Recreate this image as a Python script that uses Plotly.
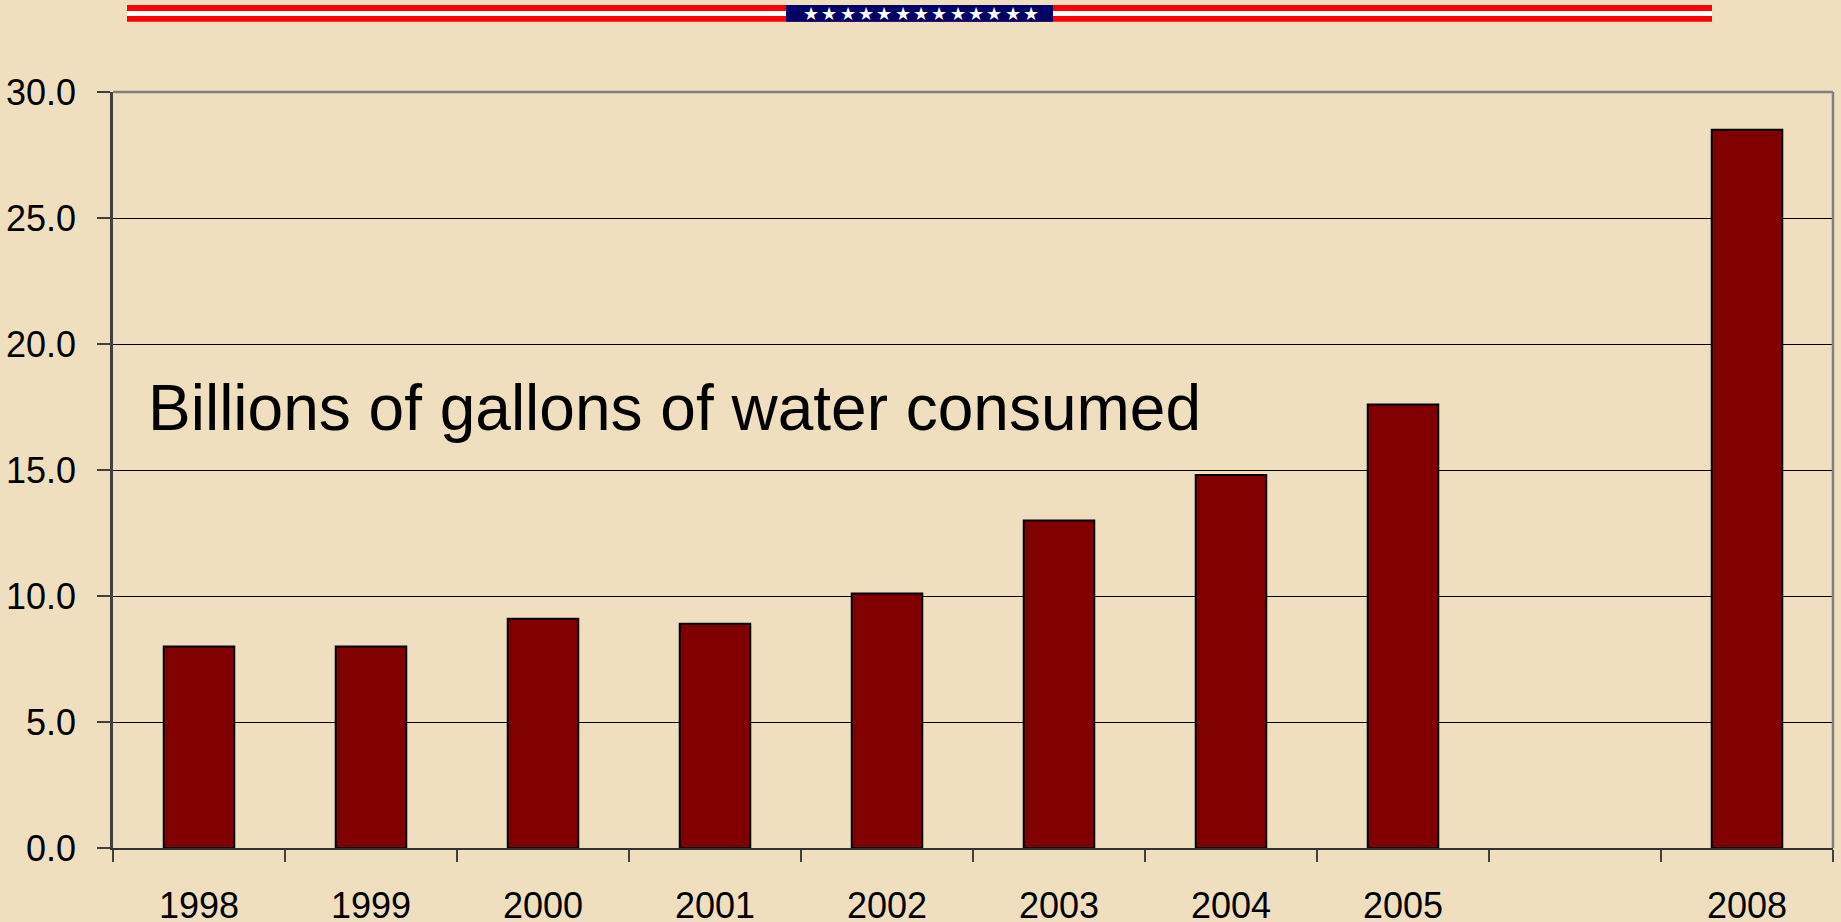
import plotly.graph_objects as go

# ---- data ----
years = ["1998", "1999", "2000", "2001", "2002", "2003", "2004", "2005", " ", "2008"]
water_billion_gallons = [8.0, 8.0, 9.1, 8.9, 10.1, 13.0, 14.8, 17.6, None, 28.5]
y_ticks = [0, 5, 10, 15, 20, 25, 30]
label_text = "Billions of gallons of water consumed"

W, H = 1841, 922
L, R, T, B = 113, 8, 92, 74
PW, PH = W - L - R, H - T - B


def px_x(px):
    return (px - L) / PW


def px_y(py):
    return (H - B - py) / PH


BG = "#EFDFBE"
FONT = "Liberation Sans, Arial, sans-serif"

fig = go.Figure()
fig.add_trace(go.Bar(
    x=years, y=water_billion_gallons,
    marker=dict(color="#800000", line=dict(color="#000000", width=2)),
    hoverinfo="x+y",
))

shapes = []
# top and right border (gray)
shapes.append(dict(type="line", xref="paper", yref="paper", x0=0, x1=1, y0=1, y1=1,
                   line=dict(color="#808080", width=2.5), layer="above"))
shapes.append(dict(type="line", xref="paper", yref="paper", x0=1, x1=1, y0=0, y1=1,
                   line=dict(color="#808080", width=2.5), layer="above"))

# banner (red / white stripes with navy star field)
bx0, bx1 = 127, 1712
shapes.append(dict(type="rect", xref="paper", yref="paper", x0=px_x(bx0), x1=px_x(bx1),
                   y0=px_y(21.7), y1=px_y(5), fillcolor="#FF0000", line=dict(width=0)))
shapes.append(dict(type="rect", xref="paper", yref="paper", x0=px_x(bx0), x1=px_x(bx1),
                   y0=px_y(16), y1=px_y(11), fillcolor="#FFFFFF", line=dict(width=0)))
shapes.append(dict(type="rect", xref="paper", yref="paper", x0=px_x(786), x1=px_x(1053),
                   y0=px_y(21.7), y1=px_y(5), fillcolor="#000066", line=dict(width=0)))

annotations = []
for i in range(13):
    cx = 811 + i * (1031 - 811) / 12
    annotations.append(dict(x=px_x(cx), y=px_y(13.5), xref="paper", yref="paper",
                            text="★", showarrow=False, xanchor="center", yanchor="middle",
                            font=dict(color="white", size=18, family="DejaVu Sans")))

annotations.append(dict(x=px_x(146), y=px_y(408), xref="paper", yref="paper",
                        text=label_text, showarrow=False, xanchor="left", yanchor="middle",
                        font=dict(color="#000000", size=64, family=FONT)))

fig.update_layout(
    width=W, height=H,
    margin=dict(l=L, r=R, t=T, b=B, autoexpand=False),
    paper_bgcolor=BG, plot_bgcolor=BG,
    bargap=0.59,
    showlegend=False,
    font=dict(family=FONT, color="#000000"),
    shapes=shapes,
    annotations=annotations,
    xaxis=dict(
        type="category", categoryorder="array", categoryarray=years,
        showgrid=False, showline=True, linecolor="#333333", linewidth=2,
        ticks="outside", tickson="boundaries", ticklen=12, tickcolor="#404040", tickwidth=1.5,
        tickfont=dict(size=36, family=FONT, color="#000000"),
        ticklabelstandoff=25, automargin=False, fixedrange=True,
    ),
    yaxis=dict(
        range=[0, 30], tickvals=y_ticks, tickformat=".1f",
        showgrid=True, gridcolor="#000000", gridwidth=1,
        showline=True, linecolor="#404040", linewidth=2.5,
        zeroline=False,
        ticks="outside", ticklen=13, tickcolor="#404040", tickwidth=1.5,
        tickfont=dict(size=36, family=FONT, color="#000000"),
        ticklabelstandoff=14, automargin=False, fixedrange=True,
    ),
)

fig.write_html(
    "out.html",
    config={"displayModeBar": False},
    post_script="document.body.style.margin='0';document.body.style.padding='0';"
                "document.body.style.overflow='hidden';"
                "document.body.style.background='" + BG + "';",
)
